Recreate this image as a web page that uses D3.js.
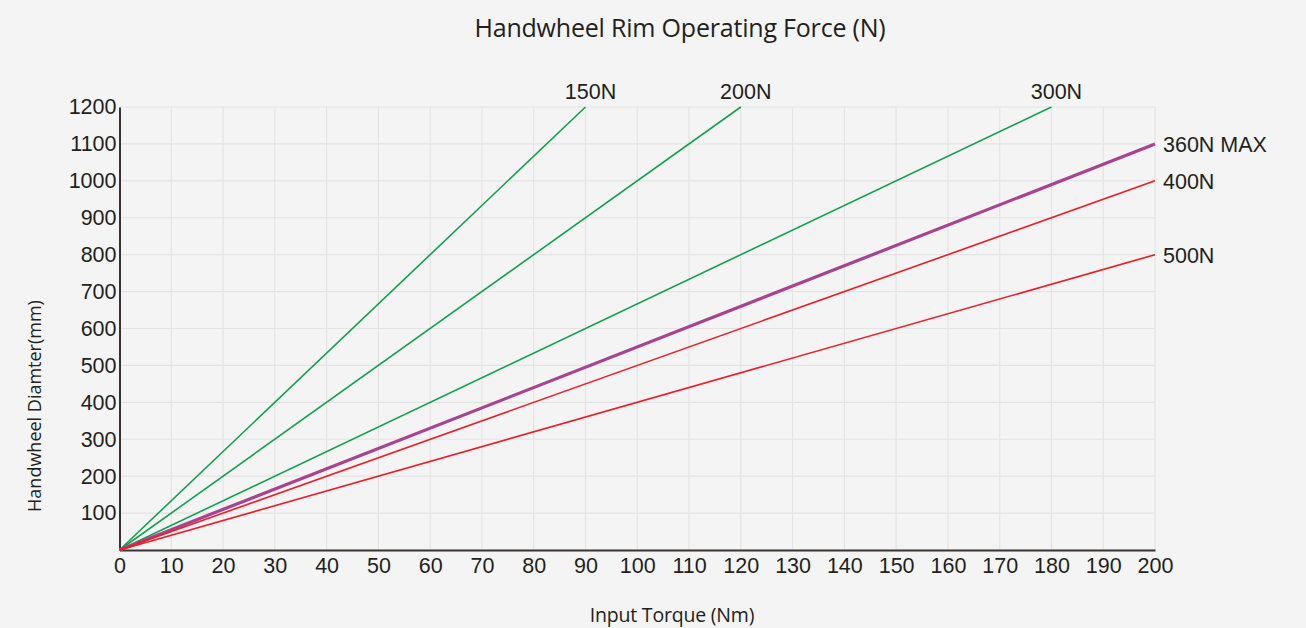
<!DOCTYPE html>
<html>
<head>
<meta charset="utf-8">
<script src="https://cdn.jsdelivr.net/npm/d3@7"></script>
<style>
    body { margin: 0; background: #f4f4f4; }
    svg { display: block; }
</style>
</head>
<body>
<div id="chart"></div>
<script>
// force lines: each goes from the origin to its end point (torque Nm, diameter mm)
const forces = ["150N", "200N", "300N", "360N MAX", "400N", "500N"];
const endTorque = [90, 120, 180, 200, 200, 200];
const endDiameter = [1200, 1200, 1200, 1100, 1000, 800];
const lineColors = ["#13a04f", "#13a04f", "#13a04f", "#a8448f", "#ee1c25", "#ee1c25"];

const xTicks = d3.range(0, 201, 10);
const yTicks = d3.range(100, 1201, 100);

const width = 1306;
const height = 628;
const margin = {top: 107, left: 119.5, right: 151, bottom: 78};
const tickFont = "'Liberation Sans', Arial, sans-serif";

const svg = d3.select("#chart")
    .append("svg")
    .attr("width", width)
    .attr("height", height);

svg.append("rect")
    .attr("width", width)
    .attr("height", height)
    .attr("fill", "#f4f4f4");

const xScale = d3.scaleLinear()
    .domain([0, 200])
    .range([margin.left, width - margin.right]);

const yScale = d3.scaleLinear()
    .domain([0, 1200])
    .range([height - margin.bottom, margin.top]);

/*
GRID
*/
svg.append("g")
    .selectAll("line")
    .data(xTicks.slice(1))
    .enter()
    .append("line")
    .attr("x1", d => xScale(d))
    .attr("x2", d => xScale(d))
    .attr("y1", yScale(0))
    .attr("y2", yScale(1200))
    .attr("stroke", "#e4e4e4")
    .attr("stroke-width", 1.2);

svg.append("g")
    .selectAll("line")
    .data(yTicks)
    .enter()
    .append("line")
    .attr("x1", xScale(0))
    .attr("x2", xScale(200))
    .attr("y1", d => yScale(d))
    .attr("y2", d => yScale(d))
    .attr("stroke", "#e4e4e4")
    .attr("stroke-width", 1.2);

/*
AXES
*/
const xAxis = svg.append("g")
    .attr("transform", `translate(0, ${yScale(0)})`)
    .call(d3.axisBottom(xScale).tickValues(xTicks).tickFormat(d3.format("d")).tickSize(0).tickPadding(8));
xAxis.select(".domain").attr("stroke", "#3a3232").attr("stroke-width", 2);
xAxis.selectAll("text")
    .style("font-family", tickFont)
    .style("font-size", "21.5px")
    .attr("fill", "#231f20");

const yAxis = svg.append("g")
    .attr("transform", `translate(${xScale(0)}, 0)`)
    .call(d3.axisLeft(yScale).tickValues(yTicks).tickFormat(d3.format("d")).tickSize(0).tickPadding(3));
yAxis.select(".domain").attr("stroke", "#3a3232").attr("stroke-width", 2);
yAxis.selectAll("text")
    .style("font-family", tickFont)
    .style("font-size", "21.5px")
    .attr("fill", "#231f20");

/*
FORCE LINES
*/
const lineData = forces.map(function(f, i){
    return {name: f, color: lineColors[i], pts: [[0, 0], [endTorque[i], endDiameter[i]]]};
});

const line = d3.line()
    .x(d => xScale(d[0]))
    .y(d => yScale(d[1]));

svg.append("g")
    .selectAll("path")
    .data(lineData)
    .enter()
    .append("path")
    .attr("d", d => line(d.pts))
    .attr("fill", "none")
    .attr("stroke", d => d.color)
    .attr("stroke-width", d => d.name == "360N MAX" ? 3.2 : 1.6);

// labels: top ones above the line end, right ones beside it
function atTop(d){ return d.pts[1][1] == 1200 && d.pts[1][0] < 200; }

svg.append("g")
    .selectAll("text")
    .data(lineData)
    .enter()
    .append("text")
    .attr("x", d => atTop(d) ? xScale(d.pts[1][0]) + 5 : xScale(d.pts[1][0]) + 8)
    .attr("y", d => atTop(d) ? yScale(1200) - 8 : yScale(d.pts[1][1]) + 8)
    .attr("text-anchor", d => atTop(d) ? "middle" : "start")
    .style("font-family", tickFont)
    .style("font-size", "21.5px")
    .attr("fill", "#231f20")
    .text(d => d.name);

/*
TITLES
*/
svg.append("text")
    .attr("x", 680)
    .attr("y", 37)
    .attr("text-anchor", "middle")
    .style("font-family", "'Open Sans', sans-serif")
    .style("font-size", "25px")
    .style("letter-spacing", "-0.2px")
    .attr("fill", "#231f20")
    .text("Handwheel Rim Operating Force (N)");

svg.append("text")
    .attr("x", 672)
    .attr("y", 622)
    .attr("text-anchor", "middle")
    .style("font-family", "'Open Sans', sans-serif")
    .style("font-size", "19.5px")
    .style("letter-spacing", "-0.2px")
    .attr("fill", "#231f20")
    .text("Input Torque (Nm)");

svg.append("text")
    .attr("transform", "translate(41, 406) rotate(-90)")
    .attr("text-anchor", "middle")
    .style("font-family", "'Open Sans', sans-serif")
    .style("font-size", "18px")
    .attr("fill", "#231f20")
    .text("Handwheel Diamter(mm)");
</script>
</body>
</html>
